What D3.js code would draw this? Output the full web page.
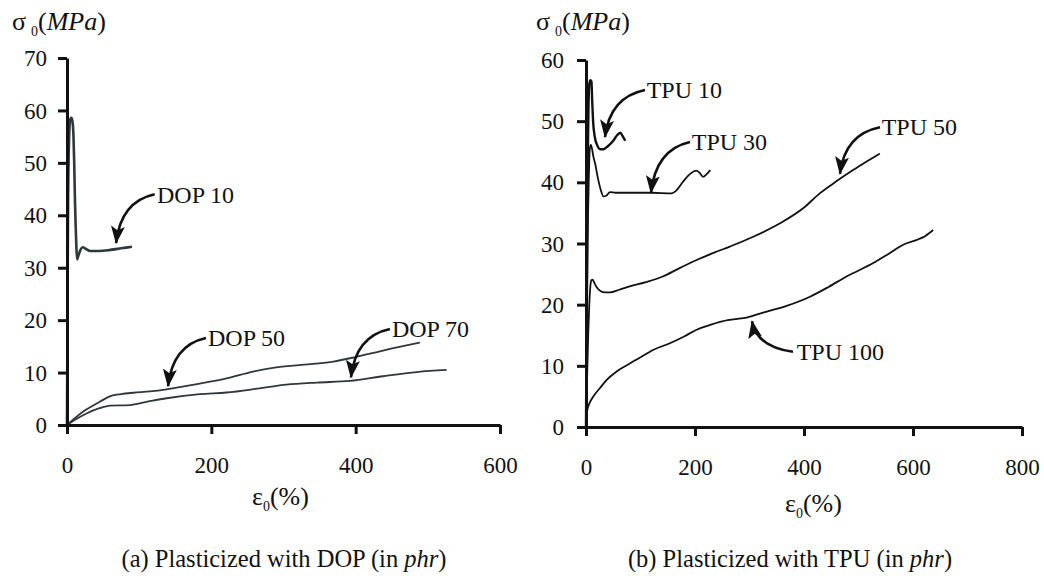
<!DOCTYPE html>
<html>
<head>
<meta charset="utf-8">
<script src="https://cdn.jsdelivr.net/npm/d3@7"></script>
<style>
  html, body { margin: 0; padding: 0; background: #fff; }
  svg { display: block; }
  svg text { font-family: "Liberation Serif", Tinos, "Times New Roman", Times, "DejaVu Serif", serif; fill: #111; }
</style>
</head>
<body>
<svg id="chart" width="1044" height="581"></svg>
<script>
// ---------------- DATA ----------------
// Panel (a): strain (%) / stress (MPa)
const dop10Strain = [0, 0.5, 1, 1.5, 3, 4.5, 6, 7.5, 9, 10, 11, 12, 13, 14, 16, 19, 22, 26, 32, 45, 60, 75, 90];
const dop10Stress = [0, 15, 30, 43, 55, 58.3, 58.6, 58, 55, 50, 43, 38, 34, 31.6, 32.4, 33.5, 33.9, 33.6, 33.2, 33.2, 33.4, 33.7, 34.0];

const dop50Strain = [0, 10, 25, 45, 60, 75, 92, 115, 138, 160, 184, 221, 258, 290, 337, 369, 401, 438, 489];
const dop50Stress = [0, 1.2, 2.8, 4.4, 5.5, 5.9, 6.15, 6.4, 6.8, 7.3, 7.9, 8.9, 10.2, 11.0, 11.6, 12.1, 13.0, 14.2, 15.7];

const dop70Strain = [0, 10, 27, 45, 60, 87, 110, 138, 184, 221, 267, 304, 346, 392, 438, 485, 526];
const dop70Stress = [0, 0.9, 2.2, 3.2, 3.7, 3.8, 4.4, 5.1, 5.9, 6.2, 7.0, 7.7, 8.1, 8.4, 9.3, 10.1, 10.5];

// Panel (b)
const tpu10Strain = [0, 1, 2, 3, 4.5, 6, 8, 10, 11.5, 13, 16, 20, 26, 32, 40, 50, 57, 63, 67, 72];
const tpu10Stress = [0, 15, 30, 42, 52, 56, 56.7, 56.5, 53, 50, 47.5, 46.2, 45.4, 45.4, 45.9, 46.8, 47.7, 48.1, 47.6, 46.8];

const tpu30Strain = [0, 1.5, 3, 5, 7, 9, 11, 14, 17, 20, 23, 27, 32, 37, 44, 55, 80, 120, 157, 165, 178, 190, 203, 208, 215, 221, 228];
const tpu30Stress = [0, 15, 30, 40, 45.5, 46.1, 45.5, 44, 43, 41.5, 40.2, 38.8, 37.7, 37.8, 38.4, 38.3, 38.3, 38.3, 38.2, 38.6, 40.1, 41.3, 41.9, 41.6, 40.9, 41.3, 42.0];

const tpu50Strain = [0, 2, 4, 6, 8, 10, 12, 15, 20, 27, 35, 44, 60, 80, 110, 141, 170, 203, 235, 264, 307, 356, 399, 429, 460, 490, 515, 539];
const tpu50Stress = [0, 8, 15, 20, 23, 24, 24.1, 23.6, 22.8, 22.2, 22, 22, 22.4, 23, 23.7, 24.6, 25.9, 27.3, 28.5, 29.5, 31.1, 33.3, 35.8, 38.2, 40.2, 42.0, 43.4, 44.7];

const tpu100Strain = [0, 2, 5, 10, 15, 25, 38, 55, 75, 100, 123, 154, 180, 203, 225, 246, 270, 295, 325, 368, 411, 445, 478, 527, 555, 582, 610, 622, 637];
const tpu100Stress = [0, 2.5, 3.6, 4.5, 5.2, 6.3, 7.7, 9, 10.1, 11.4, 12.6, 13.7, 14.8, 15.9, 16.6, 17.2, 17.6, 17.9, 18.7, 19.8, 21.3, 22.9, 24.6, 26.8, 28.3, 29.8, 30.7, 31.2, 32.2];

// Tick values
const xTicksA = [0, 200, 400, 600];
const yTicksA = [0, 10, 20, 30, 40, 50, 60, 70];
const xTicksB = [0, 200, 400, 600, 800];
const yTicksB = [0, 10, 20, 30, 40, 50, 60];

// Annotation labels (data units: text anchor, arrow start, arrow tip)
const labelsA = ["DOP 10", "DOP 50", "DOP 70"];
const labelTextA = [[124.7, 42.3], [195.4, 15.1], [450.3, 16.8]];
const arrowFromA = [[121.5, 44.0], [192.6, 16.6], [447.5, 18.3]];
const arrowToA = [[68, 34.7], [140, 7.4], [393.5, 9.1]];

const labelsB = ["TPU 10", "TPU 30", "TPU 50", "TPU 100"];
const labelTextB = [[111.4, 53.8], [194, 45.3], [542.6, 47.7], [386.6, 11.0]];
const arrowFromB = [[108.3, 55.1], [190.8, 46.6], [539.4, 49.0], [379.8, 12.3]];
const arrowToB = [[34.9, 47.4], [119.3, 38.3], [466, 41.4], [304.6, 17.3]];

const captionA = "(a) Plasticized with DOP (in ";
const captionB = "(b) Plasticized with TPU (in ";

// ---------------- DRAW ----------------
const FONT = '"Liberation Serif", Tinos, "Times New Roman", Times, "DejaVu Serif", serif';
const svg = d3.select("#chart");
svg.append("rect").attr("width", 1044).attr("height", 581).attr("fill", "#fff");

const defs = svg.append("defs");
defs.append("marker")
  .attr("id", "ahead")
  .attr("markerUnits", "userSpaceOnUse")
  .attr("viewBox", "0 0 18 14")
  .attr("refX", 17).attr("refY", 7)
  .attr("markerWidth", 18).attr("markerHeight", 14)
  .attr("orient", "auto")
  .append("path")
  .attr("d", "M0,0 L18,7 L0,14 L4,7 Z")
  .attr("fill", "#111");

function zip(xs, ys) { return xs.map((x, i) => [x, ys[i]]); }

function panel(cfg) {
  const x = d3.scaleLinear().domain(cfg.xDomain).range(cfg.xRange);
  const y = d3.scaleLinear().domain(cfg.yDomain).range(cfg.yRange);
  const g = svg.append("g");

  const line = d3.line().x(d => x(d[0])).y(d => y(d[1])).curve(d3.curveMonotoneX);
  cfg.series.forEach(s => {
    g.append("path")
      .datum(zip(s.xs, s.ys))
      .attr("d", line)
      .attr("fill", "none")
      .attr("stroke", cfg.lineColor)
      .attr("stroke-width", s.w)
      .attr("stroke-linejoin", "round");
  });

  const xAxis = d3.axisBottom(x).tickValues(cfg.xTicks).tickSize(9).tickSizeOuter(0).tickFormat(d3.format("d"));
  const yAxis = d3.axisLeft(y).tickValues(cfg.yTicks).tickSize(9).tickSizeOuter(0).tickPadding(cfg.yPad).tickFormat(d3.format("d"));
  const gx = g.append("g").attr("transform", `translate(0,${cfg.yRange[0]})`).call(xAxis);
  const gy = g.append("g").attr("transform", `translate(${cfg.xRange[0]},0)`).call(yAxis);
  [gx, gy].forEach(a => {
    a.attr("font-family", null).attr("font-size", null);
    a.select(".domain").attr("stroke", "#111").attr("stroke-width", 3);
    a.selectAll(".tick line").attr("stroke", "#111").attr("stroke-width", 3);
    a.selectAll("text").style("font-family", FONT).style("font-size", "23px").attr("fill", "#111");
  });
  gx.selectAll("text").attr("y", 48).attr("dy", 0);
  gy.selectAll("text").attr("dy", "0.33em");

  cfg.labels.forEach((lab, i) => {
    const sx = x(cfg.arrowFrom[i][0]), sy = y(cfg.arrowFrom[i][1]);
    const tx = x(cfg.arrowTo[i][0]), ty = y(cfg.arrowTo[i][1]);
    const cx = tx + 0.12 * (sx - tx), cy = sy + 0.15 * (ty - sy);
    g.append("path")
      .attr("d", `M${sx},${sy} Q${cx},${cy} ${tx},${ty}`)
      .attr("fill", "none").attr("stroke", "#111").attr("stroke-width", 2.6)
      .attr("marker-end", "url(#ahead)");
    g.append("text")
      .attr("x", x(cfg.labelText[i][0])).attr("y", y(cfg.labelText[i][1]))
      .style("font-family", FONT).style("font-size", "24px").text(lab);
  });

  const yt = svg.append("text").attr("x", cfg.yTitleX).attr("y", 30).style("font-family", FONT).style("font-size", "26px");
  yt.append("tspan").text("σ");
  yt.append("tspan").attr("dx", 5).attr("dy", 6).style("font-size", "14px").text("0");
  yt.append("tspan").attr("dy", -6).text("(");
  yt.append("tspan").style("font-style", "italic").text("MPa");
  yt.append("tspan").text(")");

  const xt = svg.append("text").attr("x", cfg.xTitleX).attr("y", cfg.xTitleY).style("font-family", FONT).style("font-size", "26px");
  xt.append("tspan").text("ε");
  xt.append("tspan").attr("dy", 6).style("font-size", "14px").text("0");
  xt.append("tspan").attr("dy", -6).text("(%)");

  const cp = svg.append("text").attr("x", cfg.capX).attr("y", 567).attr("text-anchor", "middle").style("font-family", FONT).style("font-size", "24.5px");
  cp.append("tspan").text(cfg.caption);
  cp.append("tspan").style("font-style", "italic").text("phr");
  cp.append("tspan").text(")");
}

panel({
  xDomain: [0, 600], xRange: [67, 500],
  yDomain: [0, 70], yRange: [425, 58],
  xTicks: xTicksA, yTicks: yTicksA, yPad: 11,
  lineColor: "#2f383b",
  series: [
    { xs: dop10Strain, ys: dop10Stress, w: 2.6 },
    { xs: dop50Strain, ys: dop50Stress, w: 1.8 },
    { xs: dop70Strain, ys: dop70Stress, w: 1.8 }
  ],
  labels: labelsA, labelText: labelTextA, arrowFrom: arrowFromA, arrowTo: arrowToA,
  yTitleX: 12, xTitleX: 252, xTitleY: 505,
  capX: 284, caption: captionA
});

panel({
  xDomain: [0, 800], xRange: [586, 1022],
  yDomain: [0, 60], yRange: [427, 60],
  xTicks: xTicksB, yTicks: yTicksB, yPad: 13,
  lineColor: "#111",
  series: [
    { xs: tpu10Strain, ys: tpu10Stress, w: 2.4 },
    { xs: tpu30Strain, ys: tpu30Stress, w: 1.8 },
    { xs: tpu50Strain, ys: tpu50Stress, w: 1.8 },
    { xs: tpu100Strain, ys: tpu100Stress, w: 1.8 }
  ],
  labels: labelsB, labelText: labelTextB, arrowFrom: arrowFromB, arrowTo: arrowToB,
  yTitleX: 536, xTitleX: 785, xTitleY: 512,
  capX: 790, caption: captionB
});
</script>
</body>
</html>
